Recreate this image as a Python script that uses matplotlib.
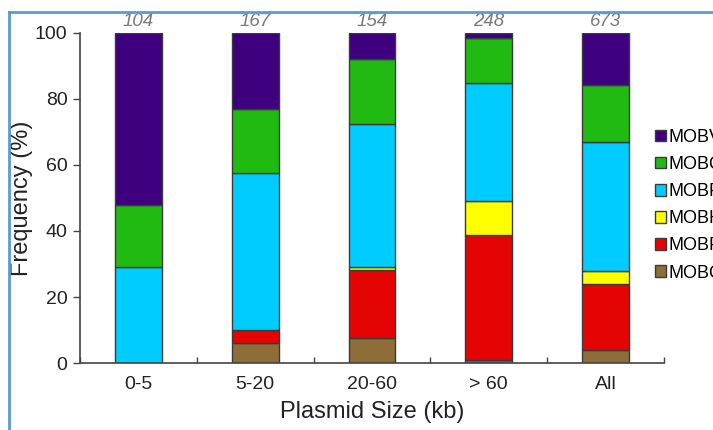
import numpy as np
import matplotlib.pyplot as plt
from matplotlib.lines import Line2D

plt.rcParams['font.family'] = ['Liberation Sans', 'DejaVu Sans']

# -----------------------------
# Data (stack order: bottom -> top)
# -----------------------------
CATEGORIES = ["0-5", "5-20", "20-60", "> 60", "All"]
COUNTS = [104, 167, 154, 248, 673]

MOBC = [0, 6, 7.6, 1, 3.9]
MOBF = [0, 4, 20.6, 37.8, 20.1]
MOBH = [0, 0, 0.8, 10.2, 3.8]
MOBP = [29, 47.5, 43.4, 35.8, 39.2]
MOBQ = [19, 19.5, 19.6, 13.7, 17.2]
MOBV = [52, 23, 8, 1.5, 15.8]

SERIES = [
    ("MOBC", MOBC, "#8f6d38"),
    ("MOBF", MOBF, "#e50404"),
    ("MOBH", MOBH, "#ffff00"),
    ("MOBP", MOBP, "#00ccff"),
    ("MOBQ", MOBQ, "#21ba12"),
    ("MOBV", MOBV, "#3f0080"),
]

fig = plt.figure(figsize=(7.13, 4.30), dpi=100)
ax = fig.add_axes([0.1122, 0.1558, 0.819, 0.7675])

x = np.arange(len(CATEGORIES))
bottom = np.zeros(len(CATEGORIES))
handles = []
for name, vals, color in SERIES:
    vals = np.array(vals, dtype=float)
    bars = ax.bar(x, vals, width=0.4, bottom=bottom, color=color,
                  edgecolor="#3a3a3a", linewidth=1.0, label=name)
    handles.append(bars)
    bottom += vals

ax.set_xlim(-0.5, 4.5)
ax.set_ylim(0, 100)

for i, c in enumerate(COUNTS):
    ax.text(x[i], 100.8, str(c), ha="center", va="bottom", fontsize=13.5,
            style="italic", color="#7a7a7a")

ax.spines["top"].set_visible(False)
ax.spines["right"].set_visible(False)
for s in ("left", "bottom"):
    ax.spines[s].set_color("#444444")
    ax.spines[s].set_linewidth(1.2)

ax.set_yticks(np.arange(0, 101, 20))
ax.tick_params(axis="y", direction="out", length=5, width=1, colors="#444444",
               labelsize=14, labelcolor="#222222", pad=4)
ax.set_xticks(x)
ax.set_xticklabels(CATEGORIES)
ax.tick_params(axis="x", which="major", length=0, labelsize=14,
               labelcolor="#222222", pad=9)
ax.set_xticks(np.arange(-0.5, 4.6, 1.0), minor=True)
ax.tick_params(axis="x", which="minor", direction="in", length=4, width=1,
               colors="#444444")

ax.set_xlabel("Plasmid Size (kb)", fontsize=17, color="#222222", labelpad=6)
ax.set_ylabel("Frequency (%)", fontsize=17, color="#222222")
ax.yaxis.set_label_coords(-0.08, 0.5)

leg = fig.legend(handles=handles[::-1], loc="upper left",
                 bbox_to_anchor=(655 / 713, 1 - 129 / 430), frameon=False,
                 fontsize=13, handlelength=0.6, handleheight=0.6,
                 handletextpad=0.15, labelspacing=0.56, borderaxespad=0,
                 borderpad=0)
for p in leg.get_patches():
    p.set_edgecolor("#3a3a3a")

# blue frame edges (top and left)
fig.add_artist(Line2D([9 / 713, 1.0], [1 - 12 / 430, 1 - 12 / 430],
                      transform=fig.transFigure, color="#5b9bd5", lw=2))
fig.add_artist(Line2D([9 / 713, 9 / 713], [0, 1 - 12 / 430],
                      transform=fig.transFigure, color="#5b9bd5", lw=2))

fig.savefig("out.png", dpi=100)
